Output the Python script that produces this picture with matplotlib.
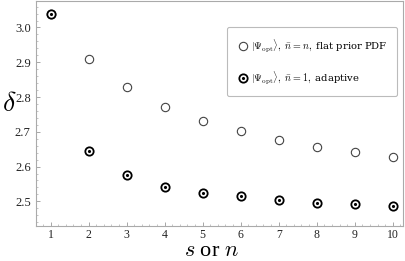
import numpy as np
import matplotlib
matplotlib.use('Agg')
import matplotlib.pyplot as plt
from matplotlib.ticker import MultipleLocator

plt.rcParams['font.family'] = ['Liberation Serif', 'DejaVu Serif']
plt.rcParams['mathtext.fontset'] = 'cm'

# values
x_vals = [1, 2, 3, 4, 5, 6, 7, 8, 9, 10]
flat_prior = [3.038, 2.908, 2.828, 2.772, 2.731, 2.701, 2.677, 2.657, 2.641, 2.628]
adaptive = [3.038, 2.645, 2.577, 2.541, 2.525, 2.514, 2.505, 2.496, 2.491, 2.486]
x_ticks = [1, 2, 3, 4, 5, 6, 7, 8, 9, 10]
y_ticks = [2.5, 2.6, 2.7, 2.8, 2.9, 3.0]

fig = plt.figure(figsize=(4.05, 2.61), dpi=100)
ax = fig.add_axes([0.088, 0.134, 0.907, 0.862])

h1, = ax.plot(x_vals, flat_prior, 'o', ms=6, mfc='white', mec='#444444', mew=0.8, ls='none')
h2, = ax.plot(x_vals, adaptive, 'o', ms=6, mfc='white', mec='black', mew=1.3, ls='none')
h3, = ax.plot(x_vals, adaptive, '.', ms=2.5, color='black', ls='none')

ax.set_xlim(0.605, 10.27)
ax.set_ylim(2.429, 3.076)
ax.set_xticks(x_ticks)
ax.set_yticks(y_ticks)
ax.set_yticklabels([f'{v:.1f}' for v in y_ticks])
ax.xaxis.set_minor_locator(MultipleLocator(0.2))
ax.yaxis.set_minor_locator(MultipleLocator(0.02))
ax.tick_params(which='both', direction='in', color='#999999', labelsize=9, labelcolor='#222222')
ax.tick_params(which='major', length=3, width=0.6)
ax.tick_params(which='minor', length=1.5, width=0.4)
ax.tick_params(axis='x', pad=2, labelsize=8.5)
for sp in ax.spines.values():
    sp.set_color('#aaaaaa')
    sp.set_linewidth(0.8)

fig.text(0.022, 0.6, r'$\delta$', fontsize=20, ha='center', va='center')
fig.text(0.523, 0.0, r'$s$ or $n$', fontsize=16, ha='center', va='bottom')

leg = ax.legend([h1, (h2, h3)],
                [r'$|\Psi_{\rm opt}\rangle,\ \bar{n}=n,$ flat prior PDF',
                 r'$|\Psi_{\rm opt}\rangle,\ \bar{n}=1,$ adaptive'],
                loc='upper right', bbox_to_anchor=(0.985, 0.884), borderaxespad=0,
                fontsize=7.2, labelspacing=1.6, handletextpad=0.2, handlelength=1.2,
                borderpad=1.0, fancybox=True, edgecolor='#bbbbbb', framealpha=1)
leg.get_frame().set_linewidth(0.8)
for t in leg.get_texts():
    t.set_fontfamily('DejaVu Serif')

fig.savefig('out.png', dpi=100)
